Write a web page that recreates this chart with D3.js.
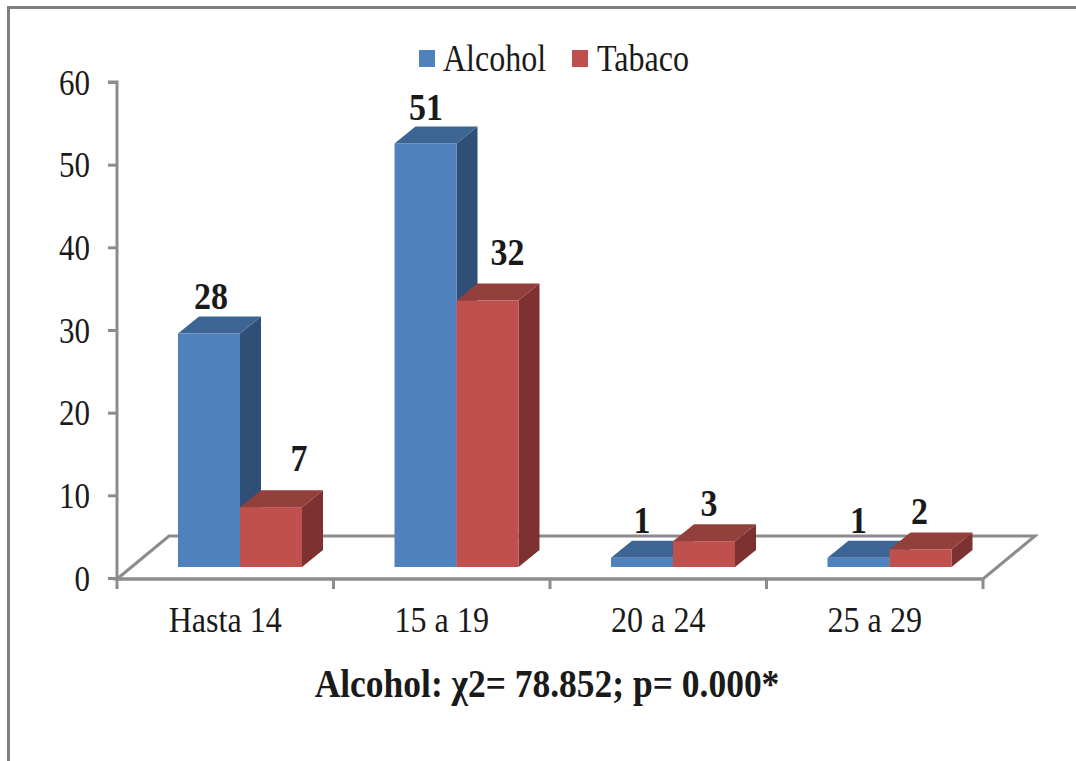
<!DOCTYPE html>
<html><head><meta charset="utf-8">
<script src="https://cdn.jsdelivr.net/npm/d3@7/dist/d3.min.js"></script>
<style>html,body{margin:0;padding:0;background:#fff}svg{display:block}text{font-family:"Liberation Serif",serif;fill:#1a1a1a}</style>
</head><body><svg id="c" width="1076" height="761"></svg>
<script>
const categories=["Hasta 14","15 a 19","20 a 24","25 a 29"];
const alcohol=[28,51,1,1];
const tabaco=[7,32,3,2];
const seriesNames=["Alcohol","Tabaco"];
const yTicks=[0,10,20,30,40,50,60];
const note="Alcohol: χ2= 78.852; p= 0.000*";

const svg=d3.select("#c");
const grey="#8c8c8c";
svg.append("path").attr("d","M8.5,761V7.5H1076").attr("fill","none").attr("stroke","#808080").attr("stroke-width",3);

const x=d3.scaleBand().domain(categories).range([117,983]);
const y=d3.scaleLinear().domain([0,60]).range([578,82]);
const inner=d3.scaleBand().domain(seriesNames).range([61,185]);
const dx=21,dy=-17,floorDx=52,floorDy=-43,baseOff=-11;

svg.append("path").attr("d",`M117,${y(0)+1}L${117+floorDx},${y(0)+1+floorDy}H${983+floorDx}L983,${y(0)+1}Z`)
  .attr("fill","none").attr("stroke",grey).attr("stroke-width",3);

const ya=svg.append("g").attr("transform","translate(117,0)").call(d3.axisLeft(y).tickValues(yTicks).tickSize(9).tickPadding(18));
ya.selectAll("path,line").attr("stroke",grey).attr("stroke-width",3);
ya.select(".domain").attr("d",`M-9,${y(60)}H0V${y(0)+1}`);
ya.selectAll("text").attr("font-size",31).attr("fill","#1a1a1a").attr("dy",0).attr("y",0)
  .attr("transform","translate(0,12) scale(1,1.17)").attr("x",-27);

const xa=svg.append("g").attr("transform",`translate(0,${y(0)+1})`).call(d3.axisBottom(x).tickSize(0).tickSizeOuter(0));
xa.select(".domain").attr("stroke",grey).attr("stroke-width",3).attr("d","M117,0H983");
xa.selectAll("text").attr("font-size",30).attr("fill","#1a1a1a").attr("dy",0).attr("y",0)
  .attr("transform","translate(0,53) scale(1.07,1.17)");
const edges=[...categories.map(c=>x(c)),983];
svg.append("g").selectAll("line").data(edges).join("line")
 .attr("x1",d=>d).attr("x2",d=>d).attr("y1",y(0)).attr("y2",y(0)+11).attr("stroke",grey).attr("stroke-width",3);

const cols={Alcohol:{f:"#4f81bd",t:"#3c6594",s:"#2f4f77"},Tabaco:{f:"#c0504d",t:"#93403c",s:"#7d3130"}};
const flat=[];
categories.forEach((c,i)=>{flat.push({c,s:"Alcohol",v:alcohol[i],i});flat.push({c,s:"Tabaco",v:tabaco[i],i});});
const bars=svg.append("g").selectAll("g").data(flat).join("g");
const X=d=>x(d.c)+inner(d.s), W=inner.bandwidth();
const B=y(0)+baseOff, T=d=>B-(y(0)-y(d.v))-(d.v<5?1:2);
bars.append("path").attr("fill",d=>cols[d.s].s).attr("d",d=>`M${X(d)+W},${B}V${T(d)}l${dx},${dy}V${B+dy}Z`);
bars.append("path").attr("fill",d=>cols[d.s].t).attr("d",d=>`M${X(d)},${T(d)}l${dx},${dy}h${W}l${-dx},${-dy}Z`);
bars.append("rect").attr("fill",d=>cols[d.s].f).attr("x",X).attr("y",T).attr("width",W).attr("height",d=>B-T(d));
// data labels sit where they were hand-placed in the original chart
const nudge={Alcohol:[[2,-1],[0.5,1],[0,-1],[0,-1]],Tabaco:[[28,-12],[20,-11],[5,-1],[-1,-1]]};
bars.append("text")
  .attr("transform",d=>{const n=nudge[d.s][d.i];return `translate(${X(d)+W/2+n[0]},${T(d)+dy-7+n[1]}) scale(1,1.12)`;})
  .attr("text-anchor","middle").attr("font-size",34).attr("font-weight","bold").attr("fill","#111").text(d=>d.v);

const lg=svg.append("g");
[[419,443],[572,597]].forEach((p,i)=>{
 lg.append("rect").attr("x",p[0]).attr("y",50).attr("width",16).attr("height",17).attr("fill",cols[seriesNames[i]].f);
 lg.append("text").attr("transform",`translate(${p[1]},71) scale(1,1.17)`).attr("font-size",32).text(seriesNames[i]);
});
svg.append("text").attr("transform","translate(547,697) scale(0.91,1)").attr("text-anchor","middle").attr("font-size",39).attr("font-weight","bold").attr("fill","#111").text(note);
</script></body></html>
